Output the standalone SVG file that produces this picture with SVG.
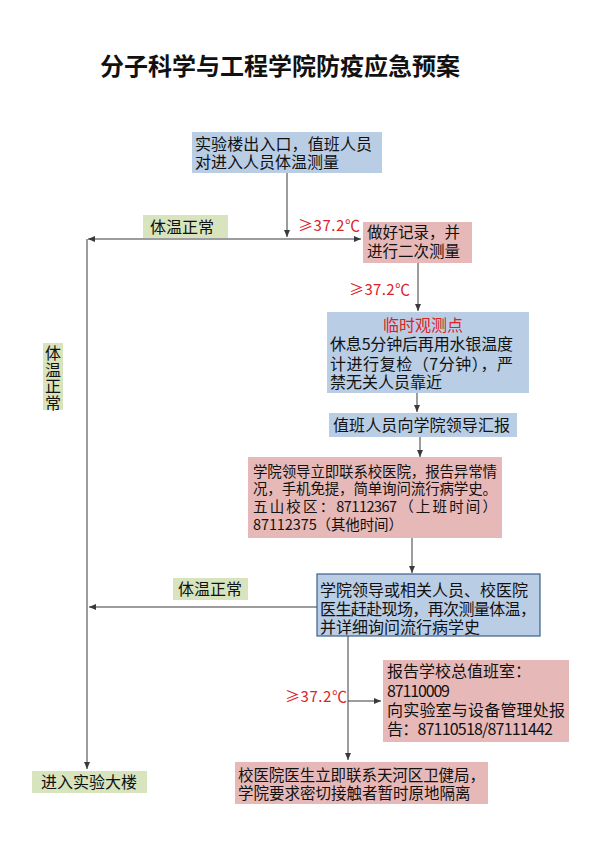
<svg xmlns="http://www.w3.org/2000/svg" width="599" height="848" viewBox="0 0 599 848">
<style>
text{font-family:"Noto Sans CJK SC","Noto Sans",sans-serif;fill:#111}
.t{font-size:16px}
.blue{fill:#b9cde5}
.pink{fill:#e6b9b8}
.green{fill:#d7e4bd}
.red{fill:#d9242a;font-size:15px}
.c{fill:none;stroke:#3a3a3a;stroke-width:1}
</style>
<defs>
<marker id="ah" markerWidth="8" markerHeight="8" refX="7" refY="4" orient="auto" markerUnits="userSpaceOnUse">
<path d="M0,1 L7,4 L0,7 Z" fill="#3a3a3a"/>
</marker>
</defs>
<rect width="599" height="848" fill="#fff"/>
<text x="100" y="75" style="font-size:24px;font-weight:bold" textLength="360">分子科学与工程学院防疫应急预案</text>

<g id="connectors">
<path class="c" d="M287,173 V237" marker-end="url(#ah)"/>
<path class="c" d="M287,239 H88" marker-end="url(#ah)"/>
<path class="c" d="M287,239 H361" marker-end="url(#ah)"/>
<path class="c" d="M87,239 V769" marker-end="url(#ah)"/>
<path class="c" d="M418,263 V311" marker-end="url(#ah)"/>
<path class="c" d="M417,393 V412" marker-end="url(#ah)"/>
<path class="c" d="M420,437 V457" marker-end="url(#ah)"/>
<path class="c" d="M412,538 V573" marker-end="url(#ah)"/>
<path class="c" d="M317,607 H89" marker-end="url(#ah)"/>
<path class="c" d="M348,636 V760" marker-end="url(#ah)"/>
<path class="c" d="M348,701 H381" marker-end="url(#ah)"/>
<text class="red" x="298" y="231" textLength="62">≥37.2℃</text>
<text class="red" x="349" y="295" textLength="61">≥37.2℃</text>
<text class="red" x="285" y="702" textLength="62">≥37.2℃</text>
</g>

<g id="n1">
<rect class="blue" x="192" y="132" width="190" height="41"/>
<text class="t"><tspan x="195" y="150" textLength="177">实验楼出入口，值班人员</tspan><tspan x="195" y="168">对进入人员体温测量</tspan></text>
</g>

<g id="lbl1">
<rect class="green" x="143" y="215" width="85" height="23"/>
<text class="t" x="150" y="233">体温正常</text>
</g>

<g id="n2">
<rect class="pink" x="363" y="222" width="109" height="41"/>
<text style="font-size:15.5px"><tspan x="367" y="238">做好记录，并</tspan><tspan x="367" y="257">进行二次测量</tspan></text>
</g>

<g id="n3">
<rect class="blue" x="327" y="312" width="202" height="81"/>
<text class="t"><tspan x="423" y="331" text-anchor="middle" style="fill:#e0201f">临时观测点</tspan><tspan x="330" y="350" textLength="183">休息5分钟后再用水银温度</tspan><tspan x="330" y="370" textLength="183">计进行复检（7分钟），严</tspan><tspan x="330" y="388">禁无关人员靠近</tspan></text>
</g>

<g id="n4">
<rect class="blue" x="329" y="413" width="188" height="24"/>
<text class="t" x="333" y="431" textLength="177">值班人员向学院领导汇报</text>
</g>

<g id="n5">
<rect class="pink" x="248" y="457" width="254" height="81"/>
<text style="font-size:14.5px"><tspan x="253" y="477" textLength="244">学院领导立即联系校医院，报告异常情</tspan><tspan x="253" y="494" textLength="244">况，手机免提，简单询问流行病学史。</tspan><tspan x="253" y="512" textLength="244">五 山 校 区 ： 87112367 （ 上 班 时 间 ）</tspan><tspan x="253" y="530" textLength="150">87112375（其他时间）</tspan></text>
</g>

<g id="n6">
<rect class="blue" x="317" y="574" width="223" height="62" stroke="#3d5f8a" stroke-width="1.2"/>
<text class="t"><tspan x="320" y="596" textLength="208">学院领导或相关人员、校医院</tspan><tspan x="320" y="615" textLength="216">医生赶赴现场，再次测量体温，</tspan><tspan x="320" y="633">并详细询问流行病学史</tspan></text>
</g>

<g id="lbl2">
<rect class="green" x="173" y="578" width="75" height="22"/>
<text class="t" x="178" y="595">体温正常</text>
</g>

<g id="lbl3">
<rect class="green" x="43" y="343" width="20" height="67"/>
<text x="53" y="345" style="font-size:16px;writing-mode:vertical-rl;letter-spacing:0.5px">体温正常</text>
</g>

<g id="n7">
<rect class="pink" x="383" y="660" width="186" height="82"/>
<text class="t"><tspan x="387" y="677">报告学校总值班室：</tspan><tspan x="387" y="697" textLength="63">87110009</tspan><tspan x="387" y="716" textLength="178">向实验室与设备管理处报</tspan><tspan x="387" y="735" textLength="166">告：87110518/87111442</tspan></text>
</g>

<g id="n8">
<rect class="pink" x="235" y="762" width="253" height="42"/>
<text style="font-size:15.5px"><tspan x="238" y="781" textLength="247">校医院医生立即联系天河区卫健局，</tspan><tspan x="238" y="799">学院要求密切接触者暂时原地隔离</tspan></text>
</g>

<g id="n9">
<rect class="green" x="32" y="771" width="115" height="22"/>
<text class="t" x="41" y="788">进入实验大楼</text>
</g>
</svg>
